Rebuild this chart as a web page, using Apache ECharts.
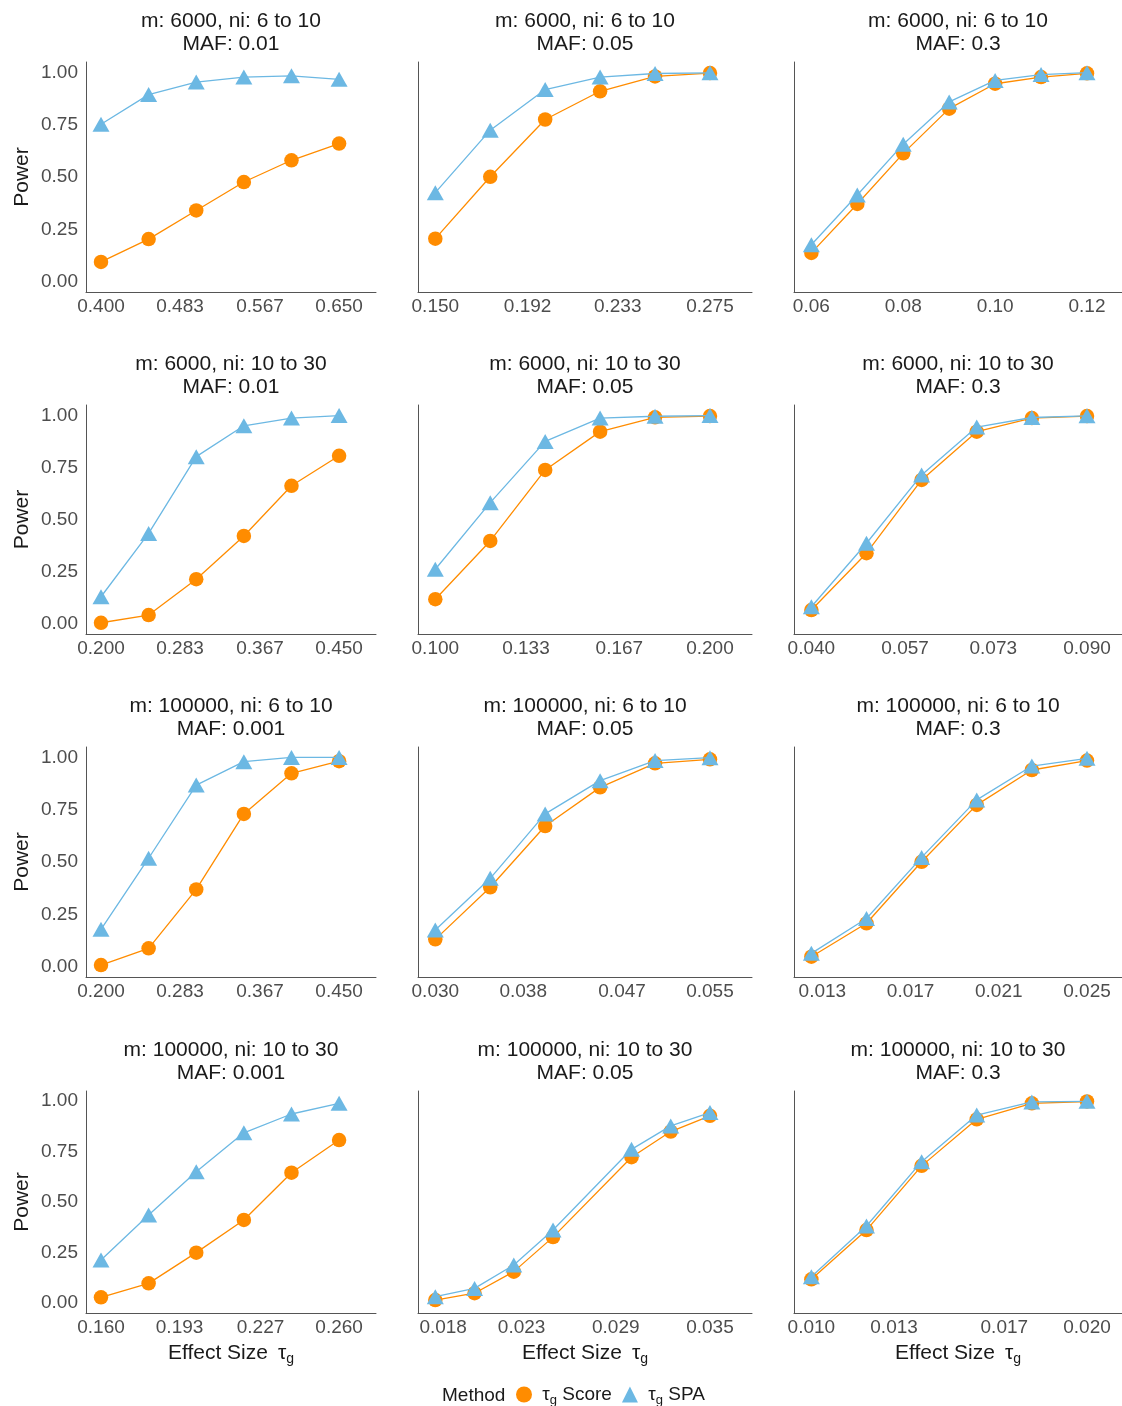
<!DOCTYPE html>
<html>
<head>
<meta charset="utf-8">
<title>Power by effect size</title>
<script src="https://cdn.jsdelivr.net/npm/echarts@6/dist/echarts.min.js"></script>
<style>
  html, body { margin: 0; padding: 0; background: #fff; }
  #chart { width: 1122px; height: 1406px; }
</style>
</head>
<body>
<div id="chart"></div>
<script>
// panels, row by row
const panelTitles = [
  'm: 6000, ni: 6 to 10\nMAF: 0.01', 'm: 6000, ni: 6 to 10\nMAF: 0.05', 'm: 6000, ni: 6 to 10\nMAF: 0.3',
  'm: 6000, ni: 10 to 30\nMAF: 0.01', 'm: 6000, ni: 10 to 30\nMAF: 0.05', 'm: 6000, ni: 10 to 30\nMAF: 0.3',
  'm: 100000, ni: 6 to 10\nMAF: 0.001', 'm: 100000, ni: 6 to 10\nMAF: 0.05', 'm: 100000, ni: 6 to 10\nMAF: 0.3',
  'm: 100000, ni: 10 to 30\nMAF: 0.001', 'm: 100000, ni: 10 to 30\nMAF: 0.05', 'm: 100000, ni: 10 to 30\nMAF: 0.3'
]

const effectSizes = [
  [0.40, 0.45, 0.50, 0.55, 0.60, 0.65],
  [0.15, 0.175, 0.20, 0.225, 0.25, 0.275],
  [0.06, 0.07, 0.08, 0.09, 0.10, 0.11, 0.12],
  [0.20, 0.25, 0.30, 0.35, 0.40, 0.45],
  [0.10, 0.12, 0.14, 0.16, 0.18, 0.20],
  [0.04, 0.05, 0.06, 0.07, 0.08, 0.09],
  [0.20, 0.25, 0.30, 0.35, 0.40, 0.45],
  [0.030, 0.035, 0.040, 0.045, 0.050, 0.055],
  [0.0125, 0.015, 0.0175, 0.020, 0.0225, 0.025],
  [0.16, 0.18, 0.20, 0.22, 0.24, 0.26],
  [0.0175, 0.020, 0.0225, 0.025, 0.030, 0.0325, 0.035],
  [0.010, 0.012, 0.014, 0.016, 0.018, 0.020]
]

const scorePower = [
  [0.094, 0.203, 0.340, 0.476, 0.580, 0.660],
  [0.205, 0.501, 0.775, 0.910, 0.981, 0.997],
  [0.137, 0.371, 0.613, 0.827, 0.946, 0.978, 0.996],
  [0.004, 0.041, 0.213, 0.421, 0.662, 0.806],
  [0.117, 0.397, 0.738, 0.922, 0.991, 0.997],
  [0.065, 0.338, 0.690, 0.922, 0.987, 0.997],
  [0.007, 0.087, 0.369, 0.730, 0.924, 0.982],
  [0.130, 0.379, 0.672, 0.857, 0.972, 0.991],
  [0.047, 0.207, 0.501, 0.773, 0.940, 0.985],
  [0.028, 0.097, 0.249, 0.411, 0.645, 0.807],
  [0.014, 0.048, 0.155, 0.326, 0.722, 0.849, 0.927],
  [0.117, 0.361, 0.679, 0.910, 0.989, 0.998]
]

const spaPower = [
  [0.752, 0.894, 0.954, 0.978, 0.984, 0.967],
  [0.425, 0.724, 0.918, 0.978, 0.995, 0.998],
  [0.176, 0.414, 0.657, 0.859, 0.962, 0.990, 0.999],
  [0.129, 0.433, 0.802, 0.950, 0.987, 0.999],
  [0.261, 0.581, 0.875, 0.987, 0.996, 0.999],
  [0.081, 0.386, 0.714, 0.944, 0.990, 0.998],
  [0.178, 0.518, 0.868, 0.980, 1.000, 1.000],
  [0.175, 0.422, 0.730, 0.889, 0.985, 0.999],
  [0.063, 0.230, 0.522, 0.797, 0.959, 0.996],
  [0.213, 0.436, 0.650, 0.843, 0.936, 0.989],
  [0.031, 0.072, 0.188, 0.361, 0.761, 0.877, 0.943],
  [0.130, 0.381, 0.700, 0.931, 0.996, 0.999]
]

const xTickLabels = [
  ['0.400', '0.483', '0.567', '0.650'],
  ['0.150', '0.192', '0.233', '0.275'],
  ['0.06', '0.08', '0.10', '0.12'],
  ['0.200', '0.283', '0.367', '0.450'],
  ['0.100', '0.133', '0.167', '0.200'],
  ['0.040', '0.057', '0.073', '0.090'],
  ['0.200', '0.283', '0.367', '0.450'],
  ['0.030', '0.038', '0.047', '0.055'],
  ['0.013', '0.017', '0.021', '0.025'],
  ['0.160', '0.193', '0.227', '0.260'],
  ['0.018', '0.023', '0.029', '0.035'],
  ['0.010', '0.013', '0.017', '0.020']
]

const yTickLabels = ['0.00', '0.25', '0.50', '0.75', '1.00']

// layout (px)
const colLeft = [86, 418, 794]
const colRight = [376, 752, 1122]
const rowTop = [62, 405, 747, 1091]
const rowBottom = [292, 634, 977, 1313]
const padLeft = 0.063
const padRight = [0.155, 0.153, 0.127]

const FONT = "'Liberation Sans', Arial, Helvetica, sans-serif"
const ORANGE = '#FF8C00'
const BLUE = '#6CB8E3'
const AXIS = '#555555'

const grids = [], xAxes = [], yAxes = [], series = [], graphics = []

panelTitles.forEach((title, i) => {
  const r = Math.floor(i / 3)
  const c = i % 3
  const xs = effectSizes[i]
  const x0 = xs[0]
  const x1 = xs[xs.length - 1]
  const range = x1 - x0
  const lastRow = r === 3

  grids.push({
    left: colLeft[c],
    top: rowTop[r],
    width: colRight[c] - colLeft[c],
    height: rowBottom[r] - rowTop[r],
    containLabel: false,
    outerBoundsMode: 'none'
  })

  xAxes.push({
    type: 'value',
    gridIndex: i,
    min: x0 - padLeft * range,
    max: x1 + padRight[c] * range,
    axisLine: { show: true, onZero: false, lineStyle: { color: AXIS, width: 1 } },
    axisTick: { show: false },
    splitLine: { show: false },
    axisLabel: {
      customValues: xTickLabels[i].map(s => parseFloat(s)),
      formatter: v => {
        const hit = xTickLabels[i].find(s => Math.abs(parseFloat(s) - v) < 1e-9)
        return hit || ''
      },
      margin: 5,
      fontSize: 19,
      color: '#4d4d4d',
      fontFamily: FONT,
      showMinLabel: true,
      showMaxLabel: true,
      hideOverlap: false
    },
    name: lastRow ? '{a|Effect Size}   {t|τ}{s|g}' : '',
    nameLocation: 'middle',
    nameGap: 27,
    nameTextStyle: {
      fontFamily: FONT,
      color: '#1a1a1a',
      rich: {
        a: { fontSize: 21, fontFamily: FONT, color: '#1a1a1a' },
        t: { fontSize: 21, fontFamily: FONT, color: '#1a1a1a' },
        s: { fontSize: 14, fontFamily: FONT, color: '#1a1a1a', padding: [12, 0, 0, 0] }
      }
    }
  })

  yAxes.push({
    type: 'value',
    gridIndex: i,
    min: -0.05,
    max: 1.05,
    axisLine: { show: true, onZero: false, lineStyle: { color: AXIS, width: 1 } },
    axisTick: { show: false },
    splitLine: { show: false },
    axisLabel: {
      show: c === 0,
      customValues: yTickLabels.map(s => parseFloat(s)),
      formatter: v => v.toFixed(2),
      margin: 8,
      fontSize: 19,
      color: '#4d4d4d',
      fontFamily: FONT,
      showMinLabel: true,
      showMaxLabel: true
    },
    name: c === 0 ? 'Power' : '',
    nameLocation: 'middle',
    nameGap: 53,
    nameTextStyle: { fontSize: 21, color: '#1a1a1a', fontFamily: FONT }
  })

  series.push({
    type: 'line',
    name: 'Score',
    xAxisIndex: i,
    yAxisIndex: i,
    data: xs.map((x, j) => [x, scorePower[i][j]]),
    symbol: 'circle',
    symbolSize: 14.5,
    showSymbol: true,
    lineStyle: { color: ORANGE, width: 1.3 },
    itemStyle: { color: ORANGE },
    emphasis: { disabled: true },
    z: 2
  })
  series.push({
    type: 'line',
    name: 'SPA',
    xAxisIndex: i,
    yAxisIndex: i,
    data: xs.map((x, j) => [x, spaPower[i][j]]),
    symbol: 'triangle',
    symbolSize: [17, 15],
    showSymbol: true,
    lineStyle: { color: BLUE, width: 1.3 },
    itemStyle: { color: BLUE },
    emphasis: { disabled: true },
    z: 3
  })

  graphics.push({
    type: 'text',
    x: (colLeft[c] + colRight[c]) / 2,
    y: rowTop[r] - 52.5,
    silent: true,
    style: {
      text: title,
      fontSize: 21,
      fontFamily: FONT,
      fill: '#1a1a1a',
      lineHeight: 23,
      align: 'center',
      verticalAlign: 'top',
      textAlign: 'center',
      textVerticalAlign: 'top'
    }
  })
})

graphics.push({
  type: 'text',
  x: 442,
  y: 1396,
  silent: true,
  style: {
    text: 'Method',
    fontSize: 19,
    fontFamily: FONT,
    fill: '#1a1a1a',
    align: 'left',
    verticalAlign: 'middle',
    textAlign: 'left',
    textVerticalAlign: 'middle'
  }
})

const chart = echarts.init(document.getElementById('chart'), null, { renderer: 'canvas' })
chart.setOption({
  animation: false,
  backgroundColor: '#ffffff',
  textStyle: { fontFamily: FONT },
  grid: grids,
  xAxis: xAxes,
  yAxis: yAxes,
  series: series,
  graphic: graphics,
  legend: {
    data: [{ name: 'Score', icon: 'circle' }, { name: 'SPA', icon: 'triangle' }],
    left: 516,
    top: 1385,
    padding: 0,
    itemWidth: 16,
    itemHeight: 16,
    itemGap: 10,
    selectedMode: false,
    formatter: n => ' {t|τ}{s|g} ' + n,
    textStyle: {
      fontSize: 19,
      color: '#1a1a1a',
      fontFamily: FONT,
      rich: {
        t: { fontSize: 19, fontFamily: FONT, color: '#1a1a1a' },
        s: { fontSize: 13, fontFamily: FONT, color: '#1a1a1a', padding: [11, 0, 0, 0] }
      }
    }
  }
})
</script>
</body>
</html>
